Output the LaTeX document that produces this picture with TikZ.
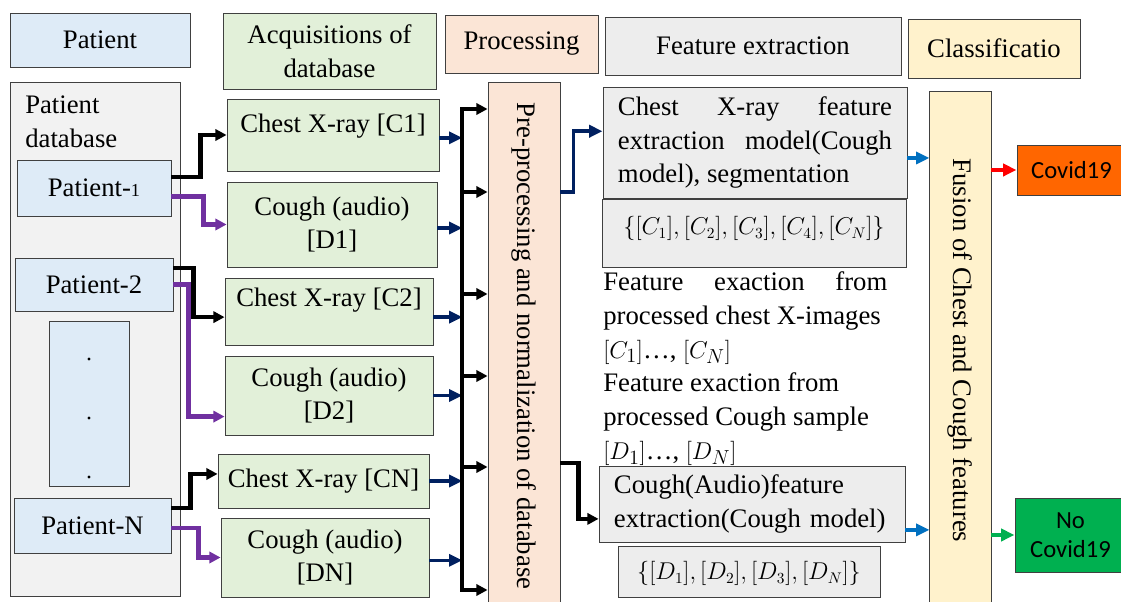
\documentclass[tikz,border=0pt]{standalone}
\usepackage{fontspec}
\usepackage{graphicx}
\setmainfont{Liberation Serif}
\newfontfamily\calfont{Carlito}
\usetikzlibrary{arrows.meta}
\hyphenpenalty=10000
\exhyphenpenalty=10000

\definecolor{pblue}{HTML}{DEEBF7}
\definecolor{pgreen}{HTML}{E2F0D9}
\definecolor{ppeach}{HTML}{FBE5D6}
\definecolor{pgray}{HTML}{EDEDED}
\definecolor{pgraylt}{HTML}{F2F2F2}
\definecolor{pyellow}{HTML}{FFF2CC}
\definecolor{pnavy}{HTML}{002060}
\definecolor{ppurple}{HTML}{7030A0}
\definecolor{pblue2}{HTML}{0070C0}
\definecolor{porange}{HTML}{FF6600}
\definecolor{pgreen2}{HTML}{00B050}

\tikzset{
	box/.style={draw=black!75, line width=0.6pt, inner sep=0pt, align=center, font=\fontsize{19}{24}\selectfont},
	wh/.style 2 args={minimum width=#1*0.025cm, minimum height=#2*0.025cm},
	blkarr/.style={line width=3pt, -{Triangle[length=8pt,width=8pt]}},
	purarr/.style={line width=3pt, color=ppurple, -{Triangle[length=8pt,width=8pt]}},
	navyarr/.style={line width=2.5pt, color=pnavy, -{Triangle[length=9.5pt,width=8.5pt]}},
	bluearr/.style={line width=2.5pt, color=pblue2, -{Triangle[length=9.5pt,width=8.5pt]}},
	redarr/.style={line width=2.5pt, color=red, -{Triangle[length=9.5pt,width=8.5pt]}},
	grnarr/.style={line width=2.5pt, color=pgreen2, -{Triangle[length=9.5pt,width=8.5pt]}}
}

\begin{document}
\begin{tikzpicture}[x=0.025cm, y=-0.025cm]
		%%%%% START %%%%%
		\path[use as bounding box, fill=white] (0,0) rectangle (1121,602);
		
		\node[box, fill=pblue, wh={180}{54}] (hpat) at (100,40) {Patient};
		\node[box, fill=pgreen, wh={213}{76}] (hacq) at (329.5,51) {Acquisitions of\\database};
		\node[box, fill=ppeach, wh={153}{58}] (hproc) at (521.5,44) {Processing};
		\node[box, fill=pgray, wh={296}{58}] (hfeat) at (753,46) {Feature extraction};
		\node[box, fill=pyellow, wh={172}{59}] (hclass) at (994,48.5) {Classificatio};
		
		\node[box, fill=pgraylt, wh={170}{514}] (pdb) at (95,339) {};
		\node[anchor=north west, inner sep=0pt, align=left, font=\fontsize{19}{24}\selectfont] (pdbtxt) at (25,96) {Patient\\database};
		\node[box, fill=pblue, wh={154}{56}] (p1) at (94,188) {Patient-{\fontsize{13}{13}\selectfont 1}};
		\node[box, fill=pblue, wh={158}{53}] (p2) at (94,284.5) {Patient-2};
		\node[box, fill=pblue, wh={80}{165}] (pdots) at (89,403.5) {};
		\foreach \dy in {359,418,477}
			\fill (pdots.center |- 0,\dy) circle (1.6);
		\node[box, fill=pblue, wh={157}{55}] (pN) at (92.5,525.5) {Patient-N};
		
		\node[box, fill=pgreen, wh={212}{72}, text height=13pt, text depth=16pt] (c1) at (333,135) {Chest X-ray [C1]};
		\node[box, fill=pgreen, wh={210}{85}] (d1) at (332,224.5) {Cough (audio)\\{[D1]}};
		\node[box, fill=pgreen, wh={208}{67}, text height=13pt, text depth=19.4pt] (c2) at (329,311.5) {Chest X-ray [C2]};
		\node[box, fill=pgreen, wh={208}{79}] (d2) at (329,395.5) {Cough (audio)\\{[D2]}};
		\node[box, fill=pgreen, wh={211}{54}] (cn) at (323.5,481) {Chest X-ray [CN]};
		\node[box, fill=pgreen, wh={208}{79}] (dn) at (325,557.5) {Cough (audio)\\{[DN]}};
		
		\draw[blkarr] ([yshift=8pt]p1.east) -- ++(29,0) |- (c1.west);
		\draw[purarr] ([yshift=-6pt]p1.east) -- ++(32,0) |- (d1.west);
		\draw[blkarr] ([yshift=11.7pt]p2.east) -- ++(20,0) |- ([yshift=-4pt]c2.west);
		\draw[purarr] (p2.east) -- ++(15,0) |- ([yshift=-15pt]d2.west);
		\draw[blkarr] ([yshift=12.4pt]pN.east) -- ++(19,0) |- ([yshift=5pt]cn.west);
		\draw[purarr] ([yshift=-2pt]pN.east) -- ++(27,0) |- (dn.west);
		
		\node[box, fill=ppeach, wh={72}{528}] (proc) at (524,346) {\rotatebox{-90}{Pre-processing and normalization of database}};
		
		\coordinate (bustop) at (462,109);
		\coordinate (busbot) at (462,590);
		\foreach \b/\s/\l in {c1/-2pt/23, d1/-2.5pt/25, c2/-4pt/29, d2/0pt/29, cn/0pt/33, dn/-2pt/33}
			\draw[navyarr] ([yshift=\s]\b.east) -- ++(\l,0);
		\draw[blkarr] (busbot) -- (bustop) -- (bustop -| proc.west);
		\draw[blkarr] (bustop) -- (busbot) -- (busbot -| proc.west);
		\foreach \y in {192,294,376,467}
			\draw[blkarr] (bustop |- 0,\y) -- (proc.west |- 0,\y);
		
		\node[box, fill=pgray, wh={304}{111}, text width=6.85cm, align=justify] (cfeat) at (755,142.5) {Chest X-ray feature extraction model(Cough model), segmentation};
		\node[box, fill=pgray, wh={304}{68}, font=\fontsize{16}{20}\selectfont, text height=12pt, text depth=9.2pt] (cset) at (754,233) {$\{[C_1],[C_2],[C_3],[C_4],[C_N]\}$};
		\node[anchor=north west, inner sep=0pt, text width=7.1cm, align=justify, font=\fontsize{19}{24}\selectfont] (ftxt) at (603,271.5) {Feature exaction from processed chest X-images\\ $[C_1]$\dots, $[C_N]$\\ Feature exaction from\\ processed Cough sample\\ $[D_1]$\dots, $[D_N]$};
		\node[box, fill=pgray, wh={306}{76}, text width=6.9cm, align=left] (cofeat) at (752,504) {Cough(Audio)feature\\extraction(Cough model)};
		\node[box, fill=pgray, wh={262}{51}, font=\fontsize{16}{20}\selectfont, text height=12pt, text depth=0pt] (dset) at (749,571.5) {$\{[D_1],[D_2],[D_3],[D_N]\}$};
		
		\draw[navyarr] (proc.east |- 0,192) -- ++(13,0) |- ([yshift=8pt]cfeat.west);
		\draw[blkarr] (proc.east |- 0,463) -- ++(18,0) |- ([yshift=-10.6pt]cofeat.west);
		
		\node[box, fill=pyellow, wh={62}{519}] (fus) at (960,350.5) {\rotatebox{-90}{Fusion of Chest and Cough features}};
		\node[box, fill=porange, wh={109}{50}, font=\calfont\fontsize{17.5}{21}\selectfont] (cov) at (1071.5,170) {Covid19};
		\node[box, fill=pgreen2, wh={111}{74}, font=\calfont\fontsize{17.5}{21}\selectfont] (nocov) at (1070.5,535) {No\\Covid19};
		
		\draw[bluearr] ([yshift=-11pt]cfeat.east) -- ++(22,0);
		\draw[bluearr] ([yshift=-18.4pt]cofeat.east) -- ++(24,0);
		\draw[redarr] (fus.east |- cov.west) -- (cov.west);
		\draw[grnarr] (fus.east |- nocov.west) -- (nocov.west);
		
		%%%%% END %%%%%
\end{tikzpicture}
\end{document}
